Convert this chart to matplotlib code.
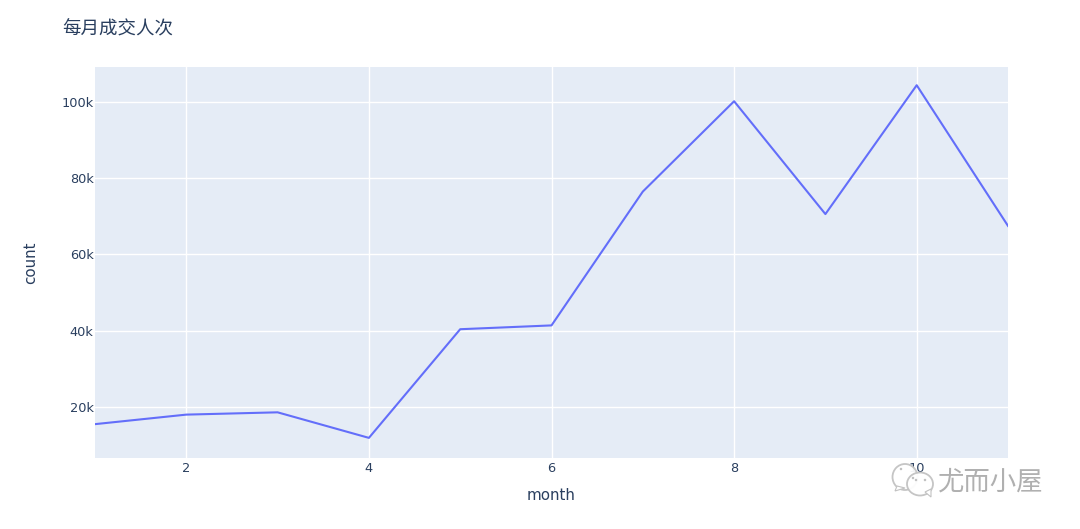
import matplotlib
matplotlib.use("Agg")
import matplotlib.pyplot as plt
from matplotlib.patches import Ellipse, Polygon

months = [1, 2, 3, 4, 5, 6, 7, 8, 9, 10, 11]
counts = [15500, 18000, 18600, 11900, 40400, 41400, 76500, 100200, 70600, 104400, 67500]
x_ticks = [2, 4, 6, 8, 10]
y_ticks = [20000, 40000, 60000, 80000, 100000]
y_labels = ["20k", "40k", "60k", "80k", "100k"]

W, H = 1080, 529
INK = "#2a3f5f"
plt.rcParams["font.family"] = ["DejaVu Sans", "Noto Sans CJK SC"]

fig = plt.figure(figsize=(W / 100, H / 100), dpi=100, facecolor="white")
ax = fig.add_axes([95 / W, 1 - 458 / H, (1008 - 95) / W, (458 - 67) / H], facecolor="#e5ecf6")
ax.plot(months, counts, color="#636efa", lw=1.5, solid_joinstyle="round", zorder=3)
ax.set_xlim(1, 11)
ax.set_ylim(6620, 109180)
ax.set_xticks(x_ticks)
ax.set_yticks(y_ticks, y_labels)
ax.grid(True, color="white", lw=1.0, zorder=1)
ax.set_axisbelow(True)
for s in ax.spines.values():
    s.set_visible(False)
ax.tick_params(axis="y", length=0, labelsize=9.3, labelcolor=INK, pad=1.0)
ax.tick_params(axis="x", length=0, labelsize=9.3, labelcolor=INK, pad=3.0)
ax.set_xlabel("month", fontsize=10.9, color=INK, labelpad=9.5)
ax.set_ylabel("count", fontsize=10.9, color=INK, labelpad=17)
fig.text(62 / W, 1 - 29 / H, "每月成交人次", fontsize=13.3, color=INK, va="center", ha="left",
         family=["Noto Sans CJK SC", "DejaVu Sans"])

# WeChat-style watermark drawn over the "10" tick label
def px(x, y):
    return (x / W, 1 - y / H)

def bubble(cx, cy, w, h, tail, z):
    el = Ellipse(px(cx, cy), w / W, h / H, transform=fig.transFigure, fc="white",
                 ec="#c2c2c2", lw=1.3, zorder=z, alpha=0.95)
    fig.add_artist(el)
    fig.add_artist(Polygon([px(*p) for p in tail], closed=True, transform=fig.transFigure,
                           fc="white", ec="#c2c2c2", lw=0.8, zorder=z))
    return el

bubble(905, 477, 25, 26, [(897, 486), (895, 491), (905, 488)], 10)
bubble(920, 484, 26, 23, [(925, 492), (931, 497), (931, 489)], 11)
for dx, dy, z in [(901, 469, 12), (913, 478, 12), (916, 480, 12), (925, 480, 12)]:
    fig.add_artist(Ellipse(px(dx, dy), 2.5 / W, 2.5 / H, transform=fig.transFigure,
                           fc="#c0c0c0", ec="none", zorder=z))
fig.text(938 / W, 1 - 482 / H, "尤而小屋", fontsize=19, color="#b0b0b0", va="center", ha="left",
         family=["Noto Sans CJK SC", "DejaVu Sans"], zorder=12, fontweight="light")

fig.savefig("out.png", dpi=100, facecolor="white")
